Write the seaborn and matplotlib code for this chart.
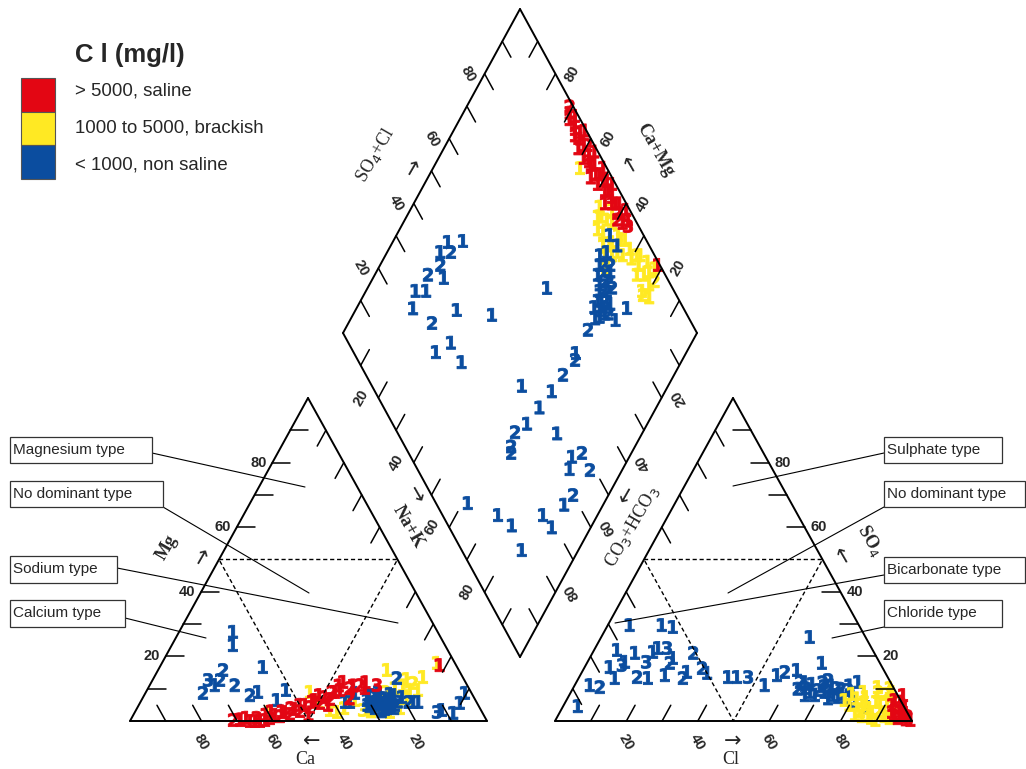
import numpy as np
import pandas as pd
import matplotlib.pyplot as plt
from matplotlib.patches import Rectangle
import seaborn as sns

# ---------------- data (percent of meq/l), digit = sample group ----------------
# cation triangle: Ca and Mg (Na+K is the remainder)
cat_blue_ca = [57.3, 59.4, 54.4, 71.8, 66.0, 68.4, 70.7, 75.2, 65.1, 62.4, 59.6, 55.6, 51.5,
               30.4, 28.5, 27.8, 25.9, 25.2, 23.2, 23.3, 29.4, 26.8, 30.5, 25.8, 23.0, 18.6,
               32.6, 35.4, 36.8, 20.1, 19.0, 17.7, 16.3, 12.6, 10.9, 8.2, 1.8, 4.8,
               29.4, 26.6, 26.8, 25.1,
               31, 28, 27, 25, 24, 22, 29, 26, 24, 28, 22, 30,
               27, 29, 25, 23, 28, 26]
cat_blue_mg = [27.6, 23.5, 16.7, 12.7, 15.8, 12.7, 11.1, 8.7, 11.1, 8.0, 9.0, 6.5, 9.6,
               6.5, 7.4, 5.9, 7.1, 5.6, 6.8, 5.0, 4.0, 3.7, 4.6, 8.4, 8.4, 13.3,
               8.7, 5.9, 5.9, 7.4, 5.9, 5.9, 5.9, 2.8, 3.4, 2.5, 8.7, 5.6,
               5.6, 5.0, 7.4, 4.3,
               5, 6, 4, 7, 4, 6, 8, 9, 6, 3, 8, 7,
               6, 5, 5, 7, 8, 4]
cat_blue_lab = "1113221222111" "1212112112112" "111121131111" "1211" "121112111211" "121121"

cat_yel_ca = [59.4, 45.1, 44.3, 40.6, 33.0, 29.8, 20.1, 14.8, 11.1, 22.4, 5.0, 17.1,
              33.8, 20.7, 14.5, 25.8, 42.3,
              38, 36, 31, 27, 18, 16, 24, 19]
cat_yel_mg = [2.8, 9.0, 5.9, 2.8, 3.4, 5.9, 15.8, 11.8, 13.6, 4.0, 18.0, 9.0,
              6.5, 10.2, 9.6, 2.8, 3.4,
              4, 6, 3, 5, 11, 13, 9, 7]
cat_yel_lab = "11113112" "111111111" "11211121"

cat_red_ca = [71.0, 68.9, 66.4, 65.0, 63.6, 62.0, 60.4, 58.4, 57.3, 55.2, 54.1, 52.0, 50.8,
              48.5, 47.5, 45.0, 44.0, 41.7, 40.6, 38.1, 34.2, 33.3, 30.1, 25.3, 4.6, 36.4, 29.1,
              69, 67, 64, 61, 59, 56, 53, 50, 46, 43, 39, 36, 32, 28, 35, 42, 49]
cat_red_mg = [0.3, 0.3, 0.0, 0.0, 0.0, 0.3, 0.9, 1.9, 1.5, 2.8, 2.2, 3.7, 3.1,
              5.0, 4.3, 6.5, 5.6, 7.4, 6.8, 9.0, 12.1, 10.2, 11.1, 11.1, 17.3, 9.6, 10.2,
              0.5, 1, 1, 2, 3, 3, 4, 5, 6, 8, 9, 11, 11, 12, 7, 5, 2]
cat_red_lab = "211111" "21212121212121" "1223111" "11211121112111211"

# anion triangle: Cl and SO4 (CO3+HCO3 is the remainder)
an_blue_cl = [4.1, 4.2, 7.3, 7.0, 6.4, 10.1, 10.1, 10.5, 6.1, 11.9,
              16.2, 19.4, 16.4, 16.8, 17.6, 20.1, 23.2, 23.7, 23.3, 29.2,
              29.4, 28.2, 33.0, 35.2, 15.1, 18.5, 41.7, 44.2, 47.3, 53.2,
              55.1, 56.8, 59.9, 58.4, 65.8, 62.6, 65.2, 66.3, 68.9, 70.0,
              72.5, 73.6, 76.2, 77.3, 68.8, 70.2, 75.6, 78.9, 80.6, 85.5,
              63, 64, 67, 69, 71, 72, 74, 75, 73, 66, 79, 77]
an_blue_so4 = [4.6, 11.1, 10.5, 16.7, 22.0, 13.3, 17.3, 18.3, 29.7, 21.1,
               13.6, 13.3, 18.3, 21.4, 22.6, 22.6, 18.0, 14.2, 19.5, 13.3,
               15.2, 21.1, 16.4, 14.9, 29.7, 29.1, 13.6, 13.6, 13.6, 11.1,
               14.2, 15.2, 15.8, 26.0, 18.0, 12.1, 10.2, 11.5, 9.6, 10.8,
               9.0, 10.2, 8.4, 9.6, 8.0, 12.7, 7.4, 12.1, 5.9, 4.3,
               10, 12, 9, 12, 9, 11, 8, 10, 7, 8, 7, 11]
an_blue_lab = ("1121113111" "2131132112" "1221111131" "1211122122" "1213121121"
               "211211121121")

an_yel_cl = [77.9, 79.0, 82.9, 83.4, 87.4, 85.2, 88.1, 88.5, 93.3, 92.7, 89.6, 91.6, 85.2, 88.7, 86.8,
             80, 81, 84, 84, 86, 87, 89, 90, 91, 90, 86, 82, 83, 88, 92]
an_yel_so4 = [6.5, 8.4, 5.0, 7.4, 2.8, 10.5, 5.9, 8.4, 0.9, 4.6, 0.3, 1.5, 1.5, 10.2, 1.9,
              5, 7, 3, 6, 4, 6, 3, 6, 2, 9, 9, 9, 2, 1, 6]
an_yel_lab = "112111121112111" "112111211121111"

an_red_cl = [91.9, 94.6, 97.1, 95.6, 96.0, 93.5, 99.4, 93.0, 98.0,
             94, 95, 96, 97, 92, 95, 98, 94]
an_red_so4 = [6.5, 4.0, 1.9, 0.9, 4.0, 8.0, 0.3, 2.8, 0.5,
              2, 3, 1.5, 2.5, 5, 5, 1.5, 6]
an_red_lab = "111211111" "11211121"

# diamond: Ca+Mg and SO4+Cl
dia_blue_camg = [39.4, 37, 37, 34, 34, 32, 33, 30, 31, 31, 39.7, 36, 34, 31,
                 84.4, 80.3, 85, 82, 83, 85, 80, 86, 83, 84.0, 71.4, 60.7, 76.4,
                 68, 70.8, 62, 49.3, 31.3, 23.6, 25, 31.1, 30.3, 31.4,
                 41.3, 32, 33, 34, 36.1, 24, 35, 34, 16.2, 14,
                 15, 9.1, 10, 11, 38.5, 28.1, 22.6, 15.4, 11, 16,
                 38, 36, 35, 33, 32, 31, 29, 30, 33, 35, 38, 33, 29, 28]
dia_blue_so4cl = [84.6, 84, 81, 82, 79, 81, 77, 78, 76, 73.5, 90.5, 91, 85, 83,
                  43.7, 48.1, 40, 43, 38, 33, 37, 27, 30, 23.6, 35.7, 44.9, 26.7,
                  29, 23.3, 29, 64.6, 69.7, 84.1, 79, 62.7, 61.4, 55.7,
                  42.4, 50, 44, 38, 33.3, 45, 30, 29, 45.6, 49,
                  43, 48.6, 40, 36, 9, 15.7, 18, 28.4, 29, 17,
                  83, 82, 80, 80, 78, 79, 77, 75, 75, 86, 87, 83, 80, 78]
dia_blue_lab = ("12121212111112" "1112221111112" "1111211122" "1111212212" "1221111111"
                "12121211121212")

dia_yel_camg = [58.5, 47, 45, 42, 40, 37.6, 35.7, 41, 37.4, 34.7, 32, 28, 25, 22, 24, 21, 21.1, 43, 38, 33,
                46, 44, 43, 39, 36, 35, 30, 27, 26, 23, 20, 19, 22, 29, 36]
dia_yel_so4cl = [92.4, 92, 91, 89, 87, 85.6, 84.3, 93, 92.8, 94, 94, 96, 97, 98, 94, 94, 90.6, 95, 90, 91,
                 90, 88, 92, 88, 88, 90, 93, 94, 92, 96, 96, 92, 91, 95, 93]
dia_yel_lab = "1111111111111111" "2111" "111211111121111"

dia_red_camg = [71, 67, 64, 61, 58, 56, 53, 50, 48, 45, 43, 40, 69, 65, 62, 59, 54, 51, 46,
                40, 36, 21.5, 63, 57, 52, 47,
                70, 68, 66, 63, 60, 57, 55, 52, 49, 47, 44, 42, 41, 38, 37, 39]
dia_red_so4cl = [99, 98, 98, 97, 97, 96, 96, 97, 96, 97, 97, 97, 97, 96, 95, 95, 94, 95, 94,
                 95, 97, 99.5, 99.5, 99, 99, 99,
                 98, 99, 97, 97, 98, 96, 97, 97, 98, 97, 96, 98, 96, 96, 98, 99]
dia_red_lab = "2" "111111" "111111" "111111" "23" "11111" "1111211111112111"

classes = ["> 5000, saline", "1000 to 5000, brackish", "< 1000, non saline"]
RED, YEL, BLUE = "#e30613", "#ffe923", "#0b4d9f"
palette = dict(zip(classes, [RED, YEL, BLUE]))

# corners of the three fields in figure pixels
CA, NAK, MG = np.array([130., 721.]), np.array([487., 721.]), np.array([308., 398.])
HCO3, CL, SO4 = np.array([555., 721.]), np.array([912., 721.]), np.array([733., 398.])
DB, DL, DR = np.array([520., 657.]), np.array([343., 333.]), np.array([697., 333.])
DT = DL + DR - DB


def cation_xy(ca, mg):
    ca, mg = np.asarray(ca) / 100, np.asarray(mg) / 100
    p = np.outer(ca, CA) + np.outer(mg, MG) + np.outer(1 - ca - mg, NAK)
    return p[:, 0], p[:, 1]


def anion_xy(cl, so4):
    cl, so4 = np.asarray(cl) / 100, np.asarray(so4) / 100
    p = np.outer(cl, CL) + np.outer(so4, SO4) + np.outer(1 - cl - so4, HCO3)
    return p[:, 0], p[:, 1]


def diamond_xy(camg, so4cl):
    c, a = np.asarray(camg) / 100, np.asarray(so4cl) / 100
    p = DB + np.outer(c, DL - DB) + np.outer(a, DR - DB)
    return p[:, 0], p[:, 1]


def points(xy, labels, cls):
    return pd.DataFrame({"x": xy[0], "y": xy[1], "lab": list(labels), "cls": cls})


pts = pd.concat([
    points(cation_xy(cat_yel_ca, cat_yel_mg), cat_yel_lab, classes[1]),
    points(cation_xy(cat_blue_ca, cat_blue_mg), cat_blue_lab, classes[2]),
    points(cation_xy(cat_red_ca, cat_red_mg), cat_red_lab, classes[0]),
    points(anion_xy(an_blue_cl, an_blue_so4), an_blue_lab, classes[2]),
    points(anion_xy(an_yel_cl, an_yel_so4), an_yel_lab, classes[1]),
    points(anion_xy(an_red_cl, an_red_so4), an_red_lab, classes[0]),
    points(diamond_xy(dia_yel_camg, dia_yel_so4cl), dia_yel_lab, classes[1]),
    points(diamond_xy(dia_blue_camg, dia_blue_so4cl), dia_blue_lab, classes[2]),
    points(diamond_xy(dia_red_camg, dia_red_so4cl), dia_red_lab, classes[0]),
], ignore_index=True)

sns.set_theme(style="white")
plt.rcParams['font.family'] = ['Liberation Sans', 'DejaVu Sans']

fig = plt.figure(figsize=(10.26, 7.69), dpi=100)
ax = fig.add_axes([0, 0, 1, 1])

TICKS = [0.1, 0.2, 0.3, 0.4, 0.6, 0.7, 0.8, 0.9]
DTICKS = [0.1, 0.2, 0.3, 0.4, 0.5, 0.6, 0.7, 0.8, 0.9]


def edge(p0, p1, tdir, ticks, off=None, rot=0, ha="center"):
    ax.plot([p0[0], p1[0]], [p0[1], p1[1]], color="black", lw=1.4, solid_capstyle="round")
    u = np.asarray(tdir, float)
    u = u / np.hypot(*u) * 18
    for t in ticks:
        q = p0 + t * (p1 - p0)
        ax.plot([q[0], q[0] + u[0]], [q[1], q[1] + u[1]], color="black", lw=1.1)
    if off is not None:
        for t in (0.2, 0.4, 0.6, 0.8):
            q = p0 + t * (p1 - p0)
            ax.text(q[0] + off[0], q[1] + off[1], f"{t * 100:.0f}", rotation=rot,
                    rotation_mode="anchor", ha=ha, va="center", fontsize=10.5,
                    fontweight="bold")


# cation triangle
edge(CA, MG, (1, 0), TICKS, off=(-6, 0), ha="right")
edge(NAK, CA, MG - NAK, TICKS, off=(0, 21), rot=-60)
edge(MG, NAK, CA - MG, TICKS)
# anion triangle
edge(HCO3, CL, SO4 - HCO3, TICKS, off=(0, 21), rot=-60)
edge(CL, SO4, (-1, 0), TICKS, off=(6, 0), ha="left")
edge(SO4, HCO3, CL - SO4, TICKS)
# diamond
edge(DL, DT, DB - DL, DTICKS, off=(-17, 0), rot=-60)
edge(DR, DT, DB - DR, DTICKS, off=(17, 0), rot=60)
edge(DL, DB, DR - DB, DTICKS, off=(-17, 0), rot=60)
edge(DR, DB, DL - DB, DTICKS, off=(17, 0), rot=120)

# dashed sub-fields
for xy in (cation_xy([50, 0, 50, 50], [50, 50, 0, 50]), anion_xy([0, 50, 50, 0], [50, 50, 0, 50])):
    ax.plot(xy[0], xy[1], color="black", lw=1.0, ls=(0, (3, 2)))

# samples as group digits
markers = {d: r"$\mathbf{%s}$" % d for d in "123"}
sns.scatterplot(data=pts, x="x", y="y", hue="cls", style="lab", palette=palette,
                markers=markers, s=90, edgecolor="face", linewidth=0.6,
                legend=False, ax=ax)

# axis names
serif = dict(family="Liberation Serif", fontsize=13, ha="center", va="center",
             rotation_mode="anchor")
arrow = dict(family="DejaVu Sans", fontsize=15, ha="center", va="center",
             rotation_mode="anchor")
ax.text(167, 547, "Mg", rotation=60, fontweight="bold", **serif)
ax.text(203, 557, "→", rotation=60, **arrow)
ax.text(305, 759, "Ca", **serif)
ax.text(312, 741, "←", **arrow)
ax.text(731, 759, "Cl", **serif)
ax.text(733, 741, "→", **arrow)
ax.text(870, 540, "SO$_4$", rotation=-60, fontweight="bold", **serif)
ax.text(841, 557, "←", rotation=-60, **arrow)
ax.text(375, 155, "SO$_4$+Cl", rotation=60, **serif)
ax.text(414, 168, "→", rotation=60, **arrow)
ax.text(655, 150, "Ca+Mg", rotation=-60, fontweight="bold", **serif)
ax.text(628, 166, "←", rotation=-60, **arrow)
ax.text(408, 527, "Na+K", rotation=-60, fontweight="bold", **serif)
ax.text(415, 495, "→", rotation=-60, **arrow)
ax.text(632, 527, "CO$_3$+HCO$_3$", rotation=60, **serif)
ax.text(627, 495, "←", rotation=60, **arrow)

# water type call-outs
boxes = [
    ((10, 437, 152, 463), "Magnesium type", (152, 453), (305, 487)),
    ((10, 481, 163, 507), "No dominant type", (163, 507), (309, 593)),
    ((10, 556, 117, 583), "Sodium type", (117, 568), (398, 623)),
    ((10, 600, 125, 627), "Calcium type", (125, 618), (206, 638)),
    ((884, 437, 1002, 463), "Sulphate type", (884, 453), (733, 486)),
    ((884, 481, 1025, 507), "No dominant type", (884, 507), (728, 593)),
    ((884, 557, 1025, 583), "Bicarbonate type", (884, 575), (615, 623)),
    ((884, 600, 1002, 627), "Chloride type", (884, 627), (832, 638)),
]
for (x0, y0, x1, y1), txt, a, b in boxes:
    ax.plot([a[0], b[0]], [a[1], b[1]], color="black", lw=0.8)
    ax.add_patch(Rectangle((x0, y0), x1 - x0, y1 - y0, facecolor="white",
                           edgecolor="#333333", lw=0.9, zorder=3))
    ax.text(x0 + 3, (y0 + y1) / 2, txt, fontsize=11, ha="left", va="center", zorder=4)

# legend
ax.text(75, 55, "C l (mg/l)", fontsize=18.5, fontweight="bold", ha="left", va="center")
for i, (name, col) in enumerate(palette.items()):
    ax.add_patch(Rectangle((21, 78 + i * 33.5), 34, 33.5, facecolor=col,
                           edgecolor="#555555", lw=0.8))
    ax.text(75, 91 + i * 37, name, fontsize=13.4, ha="left", va="center")

ax.set_xlim(0, 1026)
ax.set_ylim(769, 0)
ax.axis("off")
fig.savefig("out.png", dpi=100)
